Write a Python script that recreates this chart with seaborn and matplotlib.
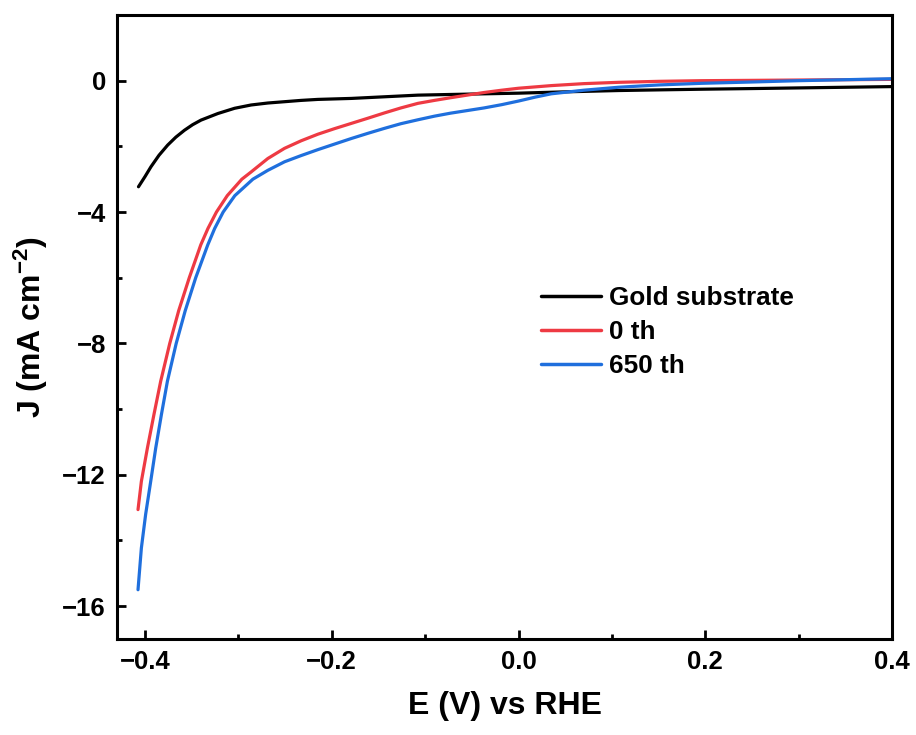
import numpy as np
import pandas as pd
import matplotlib
matplotlib.use("Agg")
import matplotlib.pyplot as plt
from matplotlib.ticker import MultipleLocator
import seaborn as sns

# ---- data ----
gold_E = [-0.407, -0.400, -0.3936, -0.385, -0.3757, -0.367, -0.3578, -0.349, -0.340,
          -0.322, -0.304, -0.2864, -0.2685, -0.2506, -0.2328, -0.2149, -0.179, -0.1434,
          -0.1077, -0.073, -0.037, 0.0, 0.05, 0.107, 0.15, 0.196, 0.25, 0.3, 0.35, 0.4]
gold_J = [-3.23, -2.92, -2.62, -2.27, -1.96, -1.72, -1.51, -1.34, -1.20,
          -1.00, -0.84, -0.74, -0.68, -0.64, -0.60, -0.57, -0.54, -0.49,
          -0.44, -0.42, -0.40, -0.38, -0.34, -0.30, -0.28, -0.26, -0.24, -0.22, -0.20, -0.18]

th0_E = [-0.4075, -0.4039, -0.3974, -0.3904, -0.3832, -0.3735, -0.3639, -0.3526,
         -0.3403, -0.3326, -0.3235, -0.3119, -0.2963, -0.2864, -0.2685, -0.2506, -0.2328,
         -0.2149, -0.197, -0.179, -0.161, -0.1434, -0.126, -0.1077, -0.09, -0.073,
         -0.055, -0.037, -0.018, 0.0, 0.035, 0.07, 0.107, 0.15, 0.196, 0.25, 0.3,
         0.35, 0.4]
th0_J = [-13.06, -12.2, -11.18, -10.16, -9.15, -8.0, -7.0, -6.0,
         -5.0, -4.5, -4.0, -3.5, -3.0, -2.78, -2.37, -2.06, -1.83,
         -1.63, -1.46, -1.30, -1.14, -0.98, -0.83, -0.69, -0.60, -0.52,
         -0.44, -0.36, -0.29, -0.23, -0.15, -0.09, -0.05, -0.02, 0.0, 0.01, 0.02,
         0.03, 0.04]

th650_E = [-0.4075, -0.4039, -0.3993, -0.3939, -0.3885, -0.3824, -0.3760, -0.3666,
           -0.3569, -0.3457, -0.3328, -0.3254, -0.3163, -0.3038, -0.2845, -0.2685,
           -0.2506, -0.2328, -0.2149, -0.197, -0.179, -0.161, -0.1434, -0.126, -0.1077,
           -0.09, -0.073, -0.055, -0.037, -0.018, 0.0, 0.018, 0.035, 0.07, 0.107, 0.15,
           0.196, 0.25, 0.3, 0.35, 0.4]
th650_J = [-15.5, -14.23, -13.2, -12.2, -11.18, -10.16, -9.15, -8.0,
           -7.0, -6.0, -5.0, -4.5, -4.0, -3.5, -3.0, -2.73,
           -2.47, -2.28, -2.10, -1.93, -1.76, -1.60, -1.45, -1.31, -1.19,
           -1.08, -0.99, -0.91, -0.83, -0.73, -0.62, -0.50, -0.40, -0.29, -0.20, -0.13,
           -0.08, -0.04, 0.0, 0.03, 0.06]

labels = ["Gold substrate", "0 th", "650 th"]
colors = ["#000000", "#EE3A43", "#1F6FDD"]

x_ticks = [-0.4, -0.2, 0.0, 0.2, 0.4]
y_ticks = [0, -4, -8, -12, -16]

# ---- build long table ----
frames = []
for lab, E, J in zip(labels, [gold_E, th0_E, th650_E], [gold_J, th0_J, th650_J]):
    frames.append(pd.DataFrame({"E": E, "J": J, "series": lab}))
df = pd.concat(frames, ignore_index=True)

sns.set_theme(style="ticks")
plt.rcParams["font.family"] = ["Liberation Sans", "DejaVu Sans"]
plt.rcParams["font.weight"] = "bold"
plt.rcParams["text.color"] = "black"
plt.rcParams["axes.labelcolor"] = "black"
plt.rcParams["xtick.color"] = "black"
plt.rcParams["ytick.color"] = "black"
plt.rcParams["mathtext.fontset"] = "custom"
plt.rcParams["mathtext.rm"] = "Liberation Sans:bold"
plt.rcParams["mathtext.bf"] = "Liberation Sans:bold"
plt.rcParams["mathtext.it"] = "Liberation Sans:bold"

fig = plt.figure(figsize=(9.16, 7.35), dpi=100)
ax = fig.add_axes([117/916, 1-639/735, (892-117)/916, (639-15)/735])

sns.lineplot(data=df, x="E", y="J", hue="series", hue_order=labels,
             palette=dict(zip(labels, colors)), sort=False, estimator=None,
             linewidth=2.3, ax=ax)

ax.set_xlim(-0.43, 0.4)
ax.set_ylim(-17, 2)
ax.set_xticks(x_ticks)
ax.set_yticks(y_ticks)
ax.xaxis.set_minor_locator(MultipleLocator(0.1))
ax.yaxis.set_minor_locator(MultipleLocator(2))
ax.set_xticklabels([f"{v:.1f}".replace("-", "\u2212") for v in x_ticks])
ax.set_yticklabels([str(v).replace("-", "\u2212") for v in y_ticks])

for s in ax.spines.values():
    s.set_visible(True)
    s.set_linewidth(2.2)
    s.set_color("black")

ax.tick_params(which="major", direction="in", length=6.5, width=2, labelsize=18.5,
               pad=8, colors="black", top=False, right=False)
ax.tick_params(which="minor", direction="in", length=3.5, width=2,
               top=False, right=False)
for lbl in ax.get_xticklabels() + ax.get_yticklabels():
    lbl.set_fontweight("bold")

ax.set_xlabel("E (V) vs RHE", fontsize=23, fontweight="bold", labelpad=12)
ax.set_ylabel(r"J (mA cm$^{-2}$)", fontsize=23, fontweight="bold", labelpad=9)

leg = ax.legend(loc="center left", bbox_to_anchor=(541/916, 1-332/735),
                bbox_transform=fig.transFigure, frameon=False,
                prop={"weight": "bold", "size": 18.8}, handlelength=2.3,
                handletextpad=0.3, labelspacing=0.38, borderpad=0, borderaxespad=0)
for line in leg.get_lines():
    line.set_linewidth(2.5)

fig.savefig("out.png", dpi=100)
